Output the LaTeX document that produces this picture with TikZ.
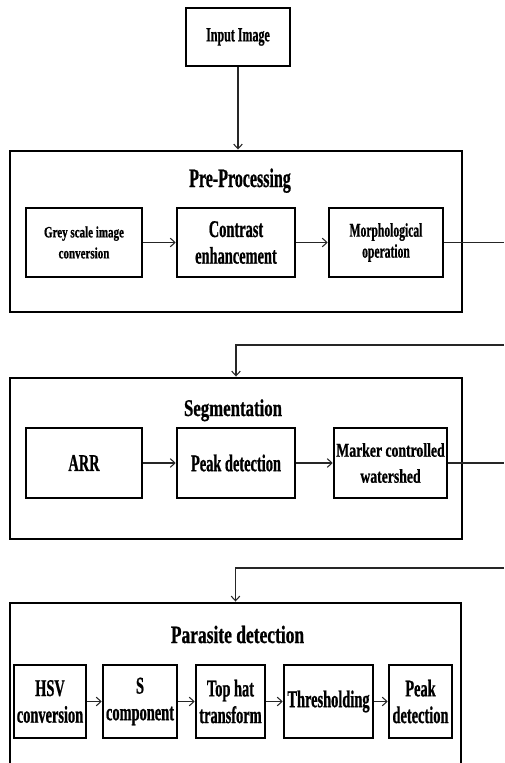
\documentclass[tikz,border=0pt]{standalone}
\usepackage{fontspec}
\setmainfont{Liberation Serif}[FakeStretch=0.6, BoldFeatures={FakeBold=0.8}]
\newfontfamily\widefont{Liberation Serif}[FakeStretch=0.7, BoldFeatures={FakeBold=0.8}]
\usetikzlibrary{arrows.meta}
\begin{document}
\begin{tikzpicture}[x=0.75pt,y=-0.75pt,
  outer/.style={draw, line width=2.2pt, minimum width=339pt, minimum height=120.75pt, inner sep=0pt},
  inbox/.style={draw, line width=1.9pt, inner sep=0pt, align=center},
  ttl/.style={anchor=base, inner sep=0pt},
  con/.style={line width=0.8pt, draw=black!85, -{Straight Barb[length=3.5pt,width=6.5pt]}},
  lin/.style={line width=0.8pt, draw=black!85},
  pfont/.style={font=\bfseries\fontsize{18}{20}\selectfont}]
\useasboundingbox (0,0) rectangle (504,763);
\clip (0,0) rectangle (504,763);

% input
\node[inbox, minimum width=78pt, minimum height=43.5pt, font=\bfseries\fontsize{15}{17}\selectfont] (in) at (238,37) {Input Image};

% pre-processing
\node[outer] (pre) at (236,231.5) {};
\node[ttl, font=\bfseries\fontsize{20}{22}\selectfont] (pret) at (240,187) {Pre-Processing};
\node[inbox, minimum width=87pt, minimum height=51.75pt, font=\widefont\bfseries\fontsize{11.8}{15.75}\selectfont] (grey) at (84,242.5) {Grey scale image\\conversion};
\node[inbox, minimum width=88.5pt, minimum height=51.75pt, font=\bfseries\fontsize{18}{20}\selectfont] (contr) at (236,242.5) {Contrast\\enhancement};
\node[inbox, minimum width=85.5pt, minimum height=51.75pt, font=\bfseries\fontsize{14.5}{15.75}\selectfont] (morph) at (386,242.5) {Morphological\\operation};

% segmentation
\node[outer] (seg) at (236,458.5) {};
\node[ttl, font=\widefont\bfseries\fontsize{18}{20}\selectfont] (segt) at (233,416) {Segmentation};
\node[inbox, minimum width=87pt, minimum height=52.5pt, font=\bfseries\fontsize{18}{20}\selectfont] (arr) at (84,463) {ARR};
\node[inbox, minimum width=88.5pt, minimum height=52.5pt, font=\bfseries\fontsize{18}{20}\selectfont] (peak) at (236,463) {Peak detection};
\node[inbox, minimum width=84.75pt, minimum height=52.5pt, font=\widefont\bfseries\fontsize{14.7}{19.5}\selectfont] (mark) at (390.5,463) {Marker controlled\\watershed};

% parasite detection
\node[outer, minimum width=338.25pt, minimum height=125.25pt] (par) at (235.5,686.5) {};
\node[ttl, font=\widefont\bfseries\fontsize{18.7}{21}\selectfont] (part) at (237.5,643) {Parasite detection};
\node[inbox, pfont, minimum width=54pt, minimum height=54.75pt] (hsv) at (50,701.5) {HSV\\conversion};
\node[inbox, pfont, minimum width=55.5pt, minimum height=54.75pt] (scomp) at (140,701.5) {S\\component};
\node[inbox, pfont, minimum width=51.75pt, minimum height=54.75pt] (top) at (230.5,701.5) {Top hat\\transform};
\node[inbox, pfont, minimum width=66.75pt, minimum height=54.75pt] (thr) at (328.5,701.5) {Thresholding};
\node[inbox, pfont, minimum width=47.25pt, minimum height=54.75pt] (pk2) at (420.5,701.5) {Peak\\detection};

% free ends on the right edge
\coordinate (r1) at (504,242.5);
\coordinate (r2) at (504,345);
\coordinate (r3) at (504,463);
\coordinate (r4) at (504,568);

% connectors
\draw[con] (in.south) -- (in.south |- pre.north);
\draw[con] (grey) -- (contr);
\draw[con] (contr) -- (morph);
\draw[lin] (morph.east) -- (r1);
\draw[con] (r2) -| (seg.north);
\draw[con] (arr) -- (peak);
\draw[con] (peak) -- (mark);
\draw[lin] (mark.east) -- (r3);
\draw[con] (r4) -| (par.north);
\draw[con] (hsv) -- (scomp);
\draw[con] (scomp) -- (top);
\draw[con] (top) -- (thr);
\draw[con] (thr) -- (pk2);
\end{tikzpicture}
\end{document}
